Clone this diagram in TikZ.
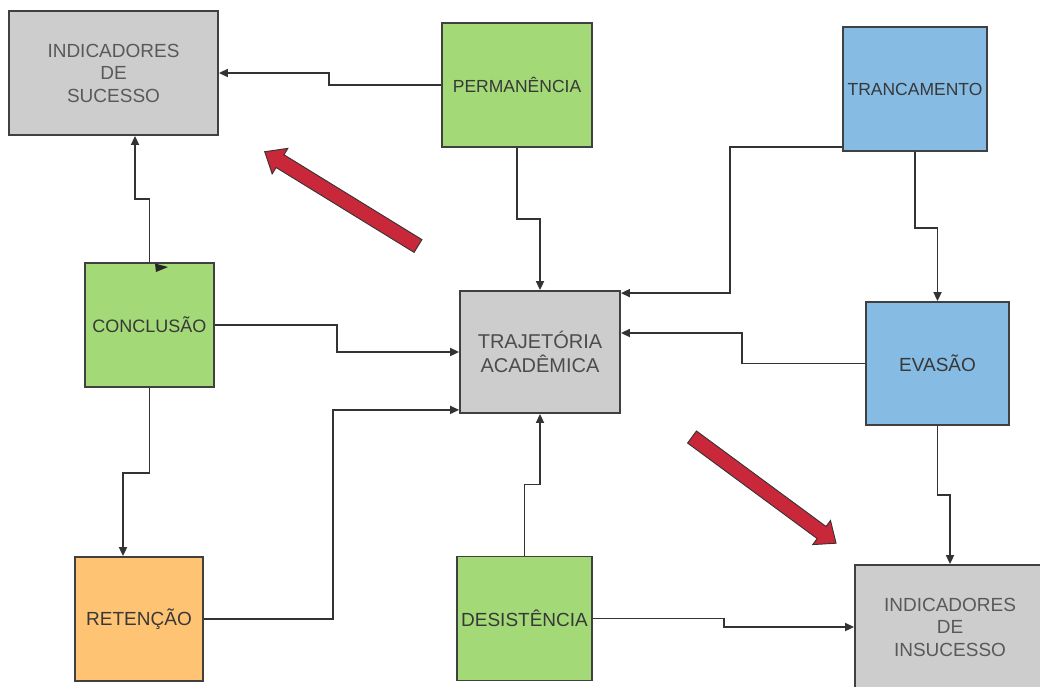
\documentclass[tikz,border=0pt]{standalone}
\usepackage{fontspec}
\setmainfont{Liberation Sans}
\usetikzlibrary{arrows.meta}

\definecolor{cinza}{HTML}{CDCDCD}
\definecolor{verde}{HTML}{A3D977}
\definecolor{azul}{HTML}{86BBE4}
\definecolor{laranja}{HTML}{FFC374}
\definecolor{vermelho}{HTML}{C9283A}

\begin{document}
\begin{tikzpicture}[x=1pt, y=-1pt,
    caixa/.style={draw=black!75, line width=1.8pt, align=center, inner sep=0pt,
        text=black!78, font=\fontsize{18}{22.5}\selectfont},
    conn/.style={draw=black!80, line width=1.7pt, -{Triangle[length=9pt,width=8pt]}},
    seta/.style={fill=vermelho, draw=black!80, line width=0.9pt, line join=miter}]
    \useasboundingbox (0,0) rectangle (1040,686);

    % caixas dos indicadores (cinza)
    \node[caixa, fill=cinza, text=black!65, minimum width=209, minimum height=124,
        font=\fontsize{19}{22.5}\selectfont] (sucesso) at (113.5,73) {INDICADORES\\DE\\SUCESSO};
    \node[caixa, fill=cinza, text=black!65, minimum width=190, minimum height=124,
        font=\fontsize{19}{22.5}\selectfont] (insuc) at (950,627) {INDICADORES\\DE\\INSUCESSO};
    \node[caixa, fill=cinza, text=black!70, minimum width=160, minimum height=122,
        font=\fontsize{20}{24}\selectfont] (traj) at (540,352) {TRAJETÓRIA\\ACADÊMICA};

    % situacoes do aluno
    \node[caixa, fill=verde, minimum width=150, minimum height=124,
        font=\fontsize{17.5}{21}\selectfont] (perm) at (517,85) {PERMANÊNCIA};
    \node[caixa, fill=azul, minimum width=144, minimum height=124,
        font=\fontsize{17.5}{21}\selectfont] (tranc) at (915,89) {TRANCAMENTO};
    \node[caixa, fill=verde, minimum width=129, minimum height=124] (concl) at (149.5,325) {CONCLUSÃO};
    \node[caixa, fill=azul, minimum width=143, minimum height=123,
        font=\fontsize{19}{22}\selectfont] (evasao) at (937.5,363.5) {EVASÃO};
    \node[caixa, fill=laranja, minimum width=128, minimum height=124,
        font=\fontsize{19}{22}\selectfont] (reten) at (139,619) {RETENÇÃO};
    \node[caixa, fill=verde, minimum width=135, minimum height=124,
        font=\fontsize{19}{22}\selectfont] (desist) at (524.5,618.5) {DESISTÊNCIA};

    % ligacoes
    \draw[conn] (perm.west) -- ++(-112,0) |- (sucesso.east);
    \draw[conn] (perm.south) -- ++(0,71) -| (traj.north);
    \draw[conn] ([yshift=5pt]tranc.south west) -- ++(-112,0) |- ([yshift=-3pt]traj.north east);
    \draw[conn] (tranc.south) -- ++(0,76) -| (evasao.north);
    \draw[conn] (evasao.west) -- ++(-123,0) |- ([yshift=19pt]traj.east);
    \draw[conn] (concl.north) -- ++(0,-63) -| ([xshift=21.5pt]sucesso.south);
    \draw[conn] (concl.east) -- ++(122,0) |- (traj.west);
    \draw[conn] (concl.south) -- ++(0,85) -| ([xshift=-16pt]reten.north);
    \draw[conn] (reten.east) -- ++(129,0) |- ([yshift=4pt]traj.south west);
    \draw[conn] (desist.north) -- ++(0,-71) -| (traj.south);
    \draw[conn] (desist.east) -- ++(131,0) |- (insuc.west);
    \draw[conn] (evasao.south) -- ++(0,69) -| (insuc.north);

    % ponta solta no topo da conclusao
    \fill[black!85] (155,263.5) -- (168,267) -- (156,272) -- cycle;

    % setas vermelhas
    \begin{scope}[shift={(418,246)}, rotate=148.4]
        \filldraw[seta] (0,-7.5) -- (162,-7.5) -- (162,-15) -- (180,0) -- (162,15) -- (162,7.5) -- (0,7.5) -- cycle;
    \end{scope}
    \begin{scope}[shift={(692,437)}, rotate=-36.4]
        \filldraw[seta] (0,-7.5) -- (161,-7.5) -- (161,-15) -- (179,0) -- (161,15) -- (161,7.5) -- (0,7.5) -- cycle;
    \end{scope}
\end{tikzpicture}
\end{document}
